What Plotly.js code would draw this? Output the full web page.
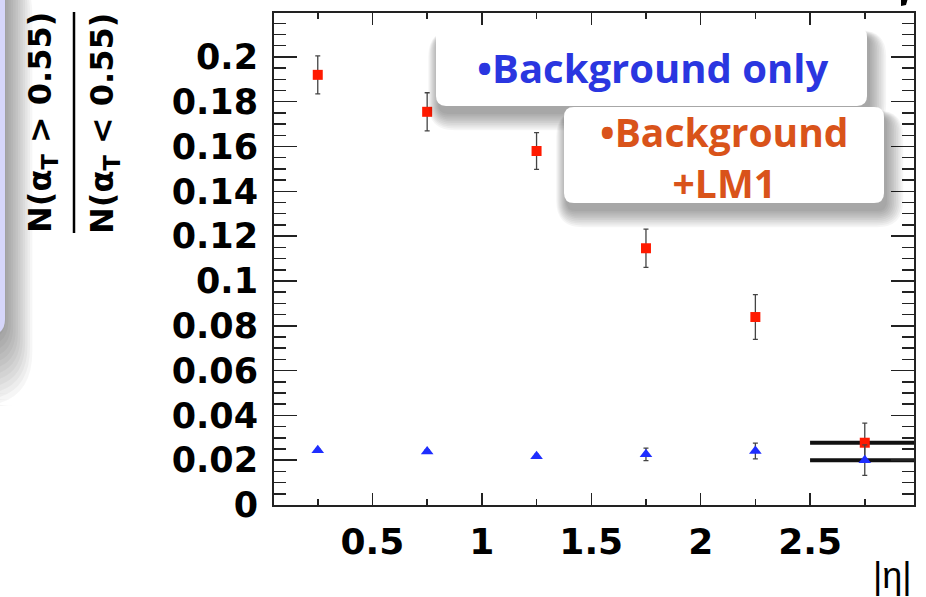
<!DOCTYPE html>
<html>
<head>
<meta charset="utf-8">
<script src="https://cdn.plot.ly/plotly-3.0.1.min.js"></script>
<style>html,body{margin:0;padding:0;background:#fff;}#chart{width:926px;height:597px;}</style>
</head>
<body>
<div id="chart"></div>
<script>
// ---- data ----
const etaCenters = [0.25, 0.75, 1.25, 1.75, 2.25, 2.75];
const etaHalfWidth = [0, 0, 0, 0, 0, 0.25];
const ratioBkgLM1 = [0.192, 0.1755, 0.158, 0.1146, 0.0839, 0.0278];
const errBkgLM1 = [0.0085, 0.0085, 0.0082, 0.0085, 0.0100, 0.0087];
const ratioBkgOnly = [0.0244, 0.0239, 0.0218, 0.0226, 0.0241, 0.0200];
const errBkgOnly = [0.0008, 0.0008, 0.0008, 0.0028, 0.0035, 0.0068];
const yTickVals = [0, 0.02, 0.04, 0.06, 0.08, 0.1, 0.12, 0.14, 0.16, 0.18, 0.2];
const yTickText = ['0', '0.02', '0.04', '0.06', '0.08', '0.1', '0.12', '0.14', '0.16', '0.18', '0.2'];
const xTickVals = [0.5, 1, 1.5, 2, 2.5];
const xTickText = ['0.5', '1', '1.5', '2', '2.5'];
const legendBkgOnly = '•Background only';
const legendBkgLM1 = '•Background<br>+LM1';
const xTitle = '|η|';
const yTitleNum = 'N(α<sub>T</sub> &gt; 0.55)';
const yTitleDen = 'N(α<sub>T</sub> &lt; 0.55)';

// ---- geometry helpers (pixel -> paper) ----
const L = 274, R = 914, T = 13, B = 505;
function P(x, y) { return [((x - L) / (R - L)).toFixed(5), ((B - y) / (B - T)).toFixed(5)]; }
function pt(x, y) { const p = P(x, y); return p[0] + ',' + p[1]; }
function rr(x0, y0, x1, y1, r) {
  return 'M' + pt(x0 + r, y0) + ' L' + pt(x1 - r, y0) + ' Q' + pt(x1, y0) + ' ' + pt(x1, y0 + r) +
    ' L' + pt(x1, y1 - r) + ' Q' + pt(x1, y1) + ' ' + pt(x1 - r, y1) +
    ' L' + pt(x0 + r, y1) + ' Q' + pt(x0, y1) + ' ' + pt(x0, y1 - r) +
    ' L' + pt(x0, y0 + r) + ' Q' + pt(x0, y0) + ' ' + pt(x0 + r, y0) + ' Z';
}
function pathShape(path, fill, opacity) {
  return {type: 'path', xref: 'paper', yref: 'paper', path: path, fillcolor: fill,
          line: {width: 0}, layer: 'above', opacity: opacity};
}
const shapes = [];
// left decorative strip with shadow
for (let k = 11; k >= 0; k--) {
  shapes.push(pathShape(rr(-40, -40, 6 + k * 2.4, 340 + k * 6, 22 + k * 3), '#000', 0.035));
}
shapes.push(pathShape(rr(-40, -40, 5, 335, 16), '#d6d6fa', 1));
// legend box shadows and boxes
function boxWithShadow(x0, y0, x1, y1) {
  for (let k = 9; k >= 0; k--) {
    const e = k * 1.8;
    shapes.push(pathShape(rr(x0 + 2 - e * 0.6, y0 + 8 - e * 0.3, x1 + 3 + e, y1 + 8 + e, 10 + e), '#000', 0.038));
  }
  shapes.push(pathShape(rr(x0, y0, x1, y1, 10), '#ffffff', 1));
}
boxWithShadow(436, 27, 867, 106);
boxWithShadow(564, 107, 884, 203);
// fraction bar of the y title
const f0 = P(74, 12), f1 = P(74, 233);
shapes.push({type: 'line', xref: 'paper', yref: 'paper', x0: f0[0], y0: f0[1], x1: f1[0], y1: f1[1],
             line: {color: '#000', width: 2.5}, layer: 'above'});
// cropped glyph at the top right corner
shapes.push(pathShape('M' + pt(901, -2) + ' L' + pt(908, -2) + ' L' + pt(906, 5) + ' L' + pt(901, 6) + ' Z', '#000', 1));

const numPos = P(42, 123), denPos = P(104, 123);
const annotations = [
  {xref: 'paper', yref: 'paper', x: numPos[0], y: numPos[1], xanchor: 'center', yanchor: 'middle',
   text: yTitleNum, textangle: -90, showarrow: false,
   font: {family: 'DejaVu Sans', size: 32, weight: 700, color: '#000'}},
  {xref: 'paper', yref: 'paper', x: denPos[0], y: denPos[1], xanchor: 'center', yanchor: 'middle',
   text: yTitleDen, textangle: -90, showarrow: false,
   font: {family: 'DejaVu Sans', size: 32, weight: 700, color: '#000'}},
  {xref: 'paper', yref: 'paper', x: P(914, 0)[0], y: P(0, 575)[1], xanchor: 'right', yanchor: 'middle',
   text: xTitle, showarrow: false, font: {family: 'Liberation Sans', size: 36, color: '#000'}},
  {xref: 'paper', yref: 'paper', x: P(653, 0)[0], y: P(0, 67)[1], xanchor: 'center', yanchor: 'middle',
   text: legendBkgOnly, showarrow: false, font: {family: 'Open Sans', size: 40, weight: 700, color: '#2a36e0'}},
  {xref: 'paper', yref: 'paper', x: P(724, 0)[0], y: P(0, 157)[1], xanchor: 'center', yanchor: 'middle',
   text: legendBkgLM1, showarrow: false, font: {family: 'Open Sans', size: 39, weight: 700, color: '#d9531a'}}
];

const traces = [
  {x: etaCenters, y: ratioBkgLM1, type: 'scatter', mode: 'markers', name: 'Background+LM1',
   marker: {symbol: 'square', size: 10, color: '#ff1a00'},
   error_y: {type: 'data', array: errBkgLM1, visible: true, color: '#444', thickness: 1.3, width: 2.5},
   error_x: {type: 'data', array: etaHalfWidth, visible: true, color: '#111', thickness: 4, width: 0}},
  {x: etaCenters, y: ratioBkgOnly, type: 'scatter', mode: 'markers', name: 'Background only',
   marker: {symbol: 'triangle-up', size: 11, color: '#1f2eff'},
   error_y: {type: 'data', array: errBkgOnly, visible: true, color: '#444', thickness: 1.3, width: 2.5},
   error_x: {type: 'data', array: etaHalfWidth, visible: true, color: '#111', thickness: 4, width: 0}}
];

const layout = {
  width: 926, height: 597,
  margin: {l: L, r: 926 - R, t: T, b: 597 - B, pad: 0},
  paper_bgcolor: '#fff', plot_bgcolor: '#fff',
  showlegend: false,
  xaxis: {range: [0.05, 2.975], showgrid: false, zeroline: false,
          showline: true, linecolor: '#222', linewidth: 2, mirror: 'ticks',
          ticks: 'inside', ticklen: 12, tickwidth: 1.5, tickcolor: '#222',
          tickvals: xTickVals, ticktext: xTickText, ticklabelstandoff: 4,
          tickfont: {family: 'DejaVu Sans', size: 36, weight: 700, color: '#000'},
          minor: {dtick: 0.25, tick0: 0, ticks: 'inside', ticklen: 6, tickwidth: 1.5, tickcolor: '#222', showgrid: false}},
  yaxis: {range: [0, 0.2196], showgrid: false, zeroline: false,
          showline: true, linecolor: '#222', linewidth: 2, mirror: 'ticks',
          ticks: 'inside', ticklen: 23, tickwidth: 1.5, tickcolor: '#222',
          tickvals: yTickVals, ticktext: yTickText, ticklabelstandoff: 7,
          tickfont: {family: 'DejaVu Sans', size: 35, weight: 700, color: '#000'},
          minor: {dtick: 0.005, tick0: 0, ticks: 'inside', ticklen: 12, tickwidth: 1.5, tickcolor: '#222', showgrid: false}},
  shapes: shapes,
  annotations: annotations
};

Plotly.newPlot('chart', traces, layout, {staticPlot: true, displayModeBar: false});
</script>
</body>
</html>
